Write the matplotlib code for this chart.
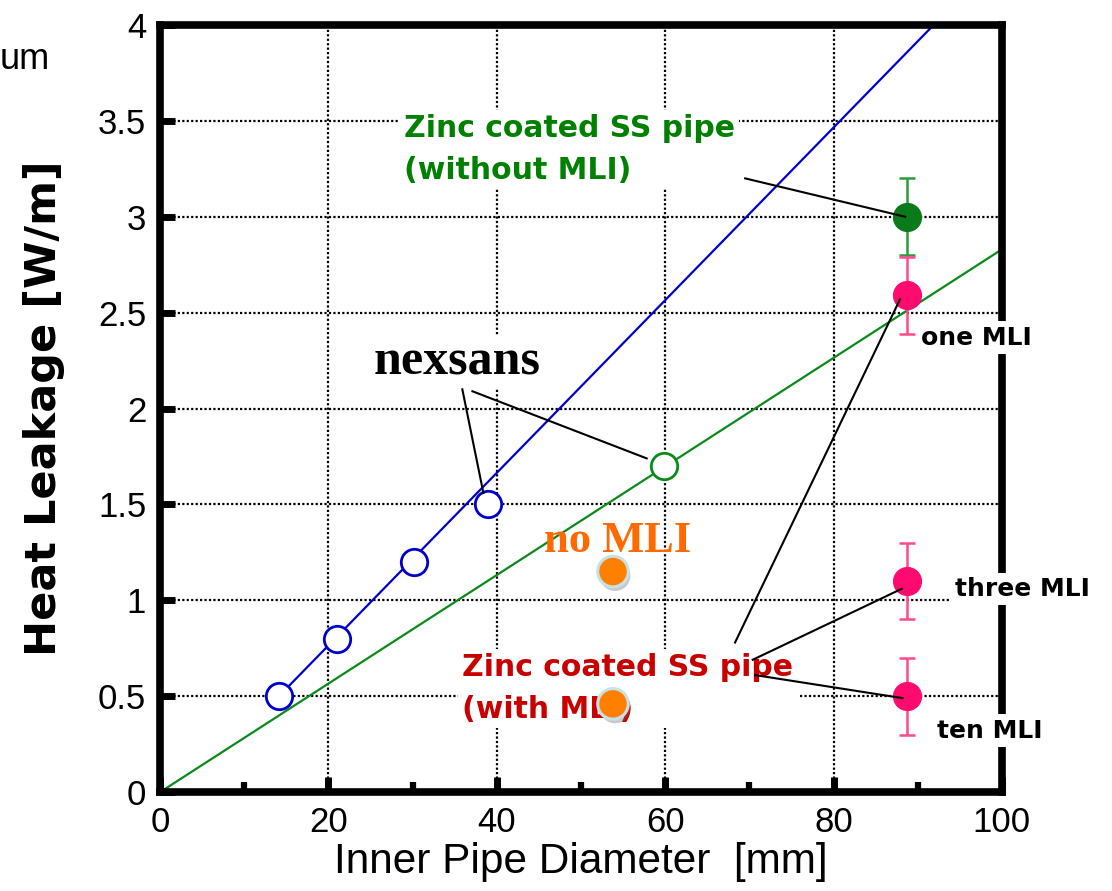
import numpy as np
import matplotlib
matplotlib.use("Agg")
import matplotlib.pyplot as plt
import matplotlib.patheffects as pe

# --- data ---
nexsans_small_d = [14.1, 21.0, 30.1, 38.9]
nexsans_small_q = [0.50, 0.80, 1.20, 1.50]
nexsans_large_d = [59.8]
nexsans_large_q = [1.70]

blue_fit_slope, blue_fit_icpt = 0.0450, -0.135   # fit through the small nexsans
green_fit_slope = 0.0283                          # line through origin

zinc_d = 88.7
zinc_nomli_q, zinc_nomli_err = 3.0, 0.2
zinc_mli_q = [2.59, 1.10, 0.50]
zinc_mli_err = [0.2, 0.2, 0.2]
mli_labels = ["one MLI", "three MLI", "ten MLI"]

orange_d = [53.8, 53.8]
orange_q = [1.15, 0.46]

xticks = [0, 20, 40, 60, 80, 100]
yticks = [0, 0.5, 1, 1.5, 2, 2.5, 3, 3.5, 4]
ytick_labels = ["0", "0.5", "1", "1.5", "2", "2.5", "3", "3.5", "4"]

sans = ["Liberation Sans", "DejaVu Sans"]

fig = plt.figure(figsize=(11.12, 8.91), dpi=100)
ax = fig.add_axes([0.144, 0.111, 0.757, 0.861])
ax.set_xlim(0, 100)
ax.set_ylim(0, 4)

# grid
ax.set_xticks(xticks)
ax.set_xticks([10, 30, 50, 70, 90], minor=True)
ax.set_yticks(yticks)
ax.set_xticklabels([str(v) for v in xticks], family=sans, fontsize=25)
ax.set_yticklabels(ytick_labels, family=sans, fontsize=25)
ax.grid(True, which="major", color="black", linestyle=(0, (1, 1)), linewidth=1.6, zorder=1)
ax.set_axisbelow(True)
for s in ax.spines.values():
    s.set_linewidth(5.5)
    s.set_zorder(3)
ax.tick_params(which="major", direction="in", length=11, width=5, pad=10,
               top=False, right=False)
ax.tick_params(which="minor", direction="in", length=7, width=4.5,
               top=False, right=False)
for t in ax.xaxis.get_major_ticks() + ax.yaxis.get_major_ticks() + ax.xaxis.get_minor_ticks():
    t.tick1line.set_solid_capstyle("round")

# fit lines
xb = np.array([nexsans_small_d[0], 100])
ax.plot(xb, blue_fit_slope * xb + blue_fit_icpt, color="#0000cc", lw=1.6, zorder=2)
xg = np.array([0, 100])
ax.plot(xg, green_fit_slope * xg, color="#0a8a1a", lw=1.6, zorder=2)

# nexsans points
ax.plot(nexsans_small_d, nexsans_small_q, "o", ms=19, mfc="white", mec="#0000cc", mew=2, zorder=5)
ax.plot(nexsans_large_d, nexsans_large_q, "o", ms=19, mfc="white", mec="#0a8a1a", mew=2, zorder=5)

# zinc coated SS pipe points
ax.errorbar([zinc_d], [zinc_nomli_q], yerr=[zinc_nomli_err], fmt="o", ms=20,
            color="#0a7a1a", ecolor="#2a9a3a", elinewidth=1.8, capsize=6, capthick=1.8, zorder=5)
ax.errorbar([zinc_d] * 3, zinc_mli_q, yerr=zinc_mli_err, fmt="o", ms=20,
            color="#ff0a6e", ecolor="#ff4a8a", elinewidth=1.8, capsize=6, capthick=1.8, zorder=5)

# orange points with halo and soft shadow
ax.plot(orange_d, orange_q, "o", ms=22, mfc="#ff8000", mec="#c6e2e6", mew=2.2, zorder=7,
        path_effects=[pe.SimplePatchShadow(offset=(1.5, -3), shadow_rgbFace="#666666", alpha=0.35),
                      pe.Normal()])

box = dict(facecolor="white", edgecolor="none", pad=3)
bold = dict(family="DejaVu Sans", fontweight="bold")

# labels
ax.text(29.0, 3.35, "Zinc coated SS pipe\n(without MLI)", color="#008000", fontsize=21.5,
        ha="left", va="center", linespacing=1.55, bbox=box, zorder=4, **bold)
ax.text(35.9, 0.54, "Zinc coated SS pipe\n(with MLI)", color="#c80000", fontsize=21.5,
        ha="left", va="center", linespacing=1.55, bbox=box, zorder=4, **bold)
ax.text(35.3, 2.18, "nexsans", family="Liberation Serif", fontweight="bold", fontsize=36,
        ha="center", va="baseline", bbox=box, zorder=4)
ax.text(54.3, 1.25, "no MLI", family="Liberation Serif", fontweight="bold", fontsize=32,
        color="#ff6a00", ha="center", va="baseline", zorder=6)

mli_pos = [(97.0, 2.37), (102.4, 1.06), (98.5, 0.32)]
for (tx, ty), lab in zip(mli_pos, mli_labels):
    ax.text(tx, ty, lab, fontsize=18, ha="center", va="center", bbox=box,
            zorder=4, clip_on=False, **bold)

# leader lines
leaders = [
    ((69.5, 3.20), (88.5, 3.0)),
    ((35.9, 2.10), (38.4, 1.56)),
    ((37.1, 2.09), (57.8, 1.74)),
    ((68.3, 0.78), (87.9, 2.57)),
    ((70.4, 0.69), (88.1, 1.06)),
    ((70.7, 0.61), (88.2, 0.49)),
]
for (x0, y0), (x1, y1) in leaders:
    ax.plot([x0, x1], [y0, y1], color="black", lw=1.5, zorder=6)

ax.set_xlabel("Inner Pipe Diameter  [mm]", family=sans, fontsize=30.5, labelpad=2)
ax.set_ylabel("Heat Leakage [W/m]", family="DejaVu Sans", fontweight="bold", fontsize=31, labelpad=24)

fig.text(0.0, 0.933, "um", family=sans, fontsize=26, ha="left", va="center")

fig.savefig("out.png", dpi=100)
